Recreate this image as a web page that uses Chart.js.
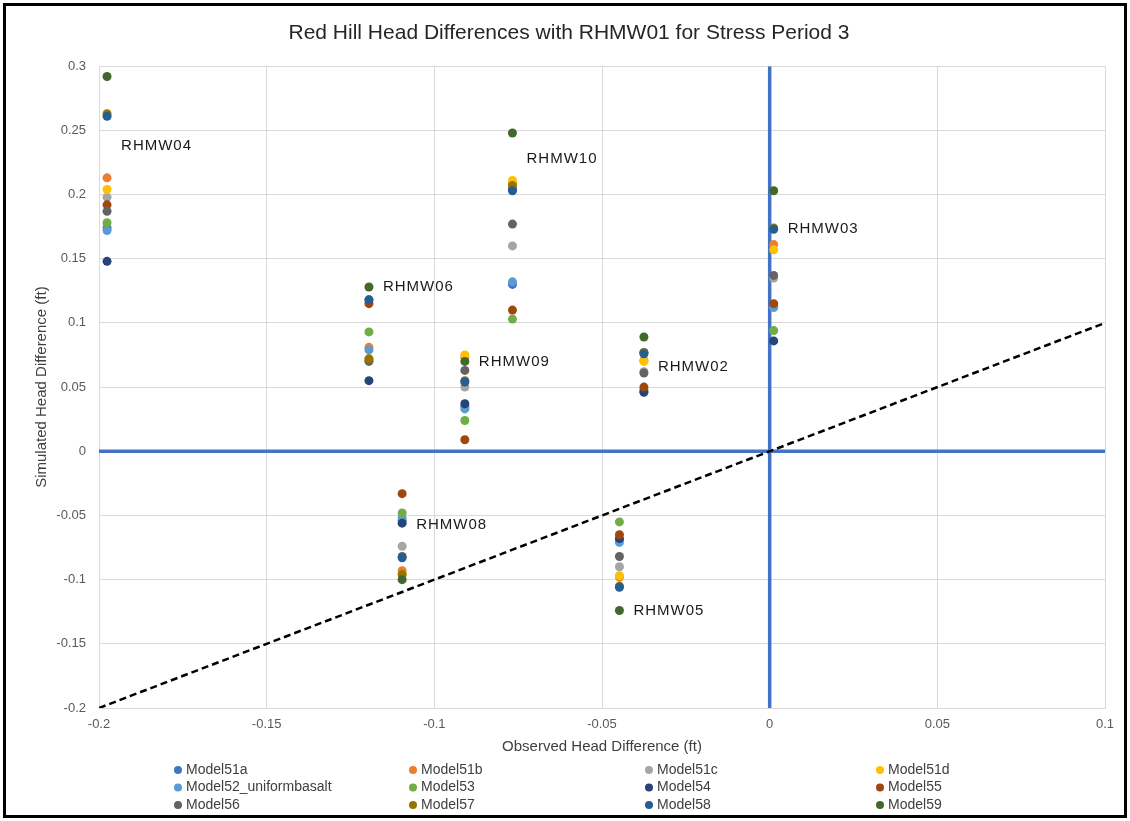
<!DOCTYPE html>
<html>
<head>
<meta charset="utf-8">
<script src="https://cdn.jsdelivr.net/npm/chart.js@4/dist/chart.umd.min.js"></script>
<style>
  body { margin: 0; background: #fff; }
</style>
</head>
<body>
<canvas id="chart" width="1130" height="821"></canvas>
<script>
// wells, in the order the values below are listed
const wells = ['RHMW04', 'RHMW06', 'RHMW08', 'RHMW09', 'RHMW10', 'RHMW05', 'RHMW02', 'RHMW03'];
const observed = [-0.1976, -0.1195, -0.1096, -0.0909, -0.0767, -0.0448, -0.0375, 0.0012];
const labelY = [0.238, 0.128, -0.057, 0.070, 0.228, -0.124, 0.066, 0.173];

const models = ['Model51a', 'Model51b', 'Model51c', 'Model51d', 'Model52_uniformbasalt', 'Model53',
                'Model54', 'Model55', 'Model56', 'Model57', 'Model58', 'Model59'];
const colors = ['#4472C4', '#ED7D31', '#A5A5A5', '#FFC000', '#5B9BD5', '#70AD47',
                '#264478', '#9E480E', '#636363', '#997300', '#255E91', '#43682B'];

const model51a = [0.174, 0.118, -0.054, 0.035, 0.130, -0.069, 0.077, 0.113];
const model51b = [0.213, 0.081, -0.093, 0.073, 0.209, -0.098, 0.071, 0.161];
const model51c = [0.198, 0.071, -0.074, 0.050, 0.160, -0.090, 0.062, 0.135];
const model51d = [0.204, 0.072, -0.096, 0.075, 0.211, -0.097, 0.070, 0.157];
const model52 = [0.172, 0.079, -0.052, 0.033, 0.132, -0.071, 0.047, 0.112];
const model53 = [0.178, 0.093, -0.048, 0.024, 0.103, -0.055, 0.048, 0.094];
const model54 = [0.148, 0.055, -0.056, 0.037, 0.204, -0.068, 0.046, 0.086];
const model55 = [0.192, 0.115, -0.033, 0.009, 0.110, -0.065, 0.050, 0.115];
const model56 = [0.187, 0.070, -0.082, 0.063, 0.177, -0.082, 0.061, 0.137];
const model57 = [0.263, 0.072, -0.096, 0.055, 0.207, -0.105, 0.077, 0.174];
const model58 = [0.261, 0.118, -0.083, 0.054, 0.203, -0.106, 0.076, 0.173];
const model59 = [0.292, 0.128, -0.100, 0.070, 0.248, -0.124, 0.089, 0.203];
const modelValues = [model51a, model51b, model51c, model51d, model52, model53,
                     model54, model55, model56, model57, model58, model59];

// reference lines
const zeroX = [{x: 0, y: -0.2}, {x: 0, y: 0.3}];
const zeroY = [{x: -0.2, y: 0}, {x: 0.1, y: 0}];
const oneToOne = [{x: -0.2, y: -0.2}, {x: 0.1, y: 0.1}];

const datasets = models.map((name, i) => ({
  label: name,
  data: observed.map((x, j) => ({x: x, y: modelValues[i][j]})),
  backgroundColor: colors[i],
  borderColor: colors[i],
  pointRadius: 4.5,
  pointBorderWidth: 0,
  order: 12 - i
}));
datasets.push(
  {label: 'x0', data: zeroX, showLine: true, borderColor: '#4472C4', borderWidth: 3.5, pointRadius: 0, order: 100},
  {label: 'y0', data: zeroY, showLine: true, borderColor: '#4472C4', borderWidth: 3.5, pointRadius: 0, order: 100},
  {label: '1:1', data: oneToOne, showLine: true, borderColor: '#000', borderWidth: 2.5, borderDash: [7, 4], pointRadius: 0, order: 99}
);

const txtFont = '"Liberation Sans", Arial, sans-serif';

const extras = {
  id: 'extras',
  beforeDraw(chart) {
    const c = chart.ctx;
    c.save();
    c.fillStyle = '#fff';
    c.fillRect(0, 0, chart.width, chart.height);
    c.restore();
  },
  afterDraw(chart) {
    const c = chart.ctx;
    const xs = chart.scales.x, ys = chart.scales.y;
    c.save();
    // well labels
    c.font = '15px ' + txtFont;
    c.letterSpacing = '1px';
    c.fillStyle = '#1a1a1a';
    c.textBaseline = 'middle';
    c.textAlign = 'left';
    wells.forEach((w, i) => {
      c.fillText(w, xs.getPixelForValue(observed[i]) + 14, ys.getPixelForValue(labelY[i]));
    });
    c.letterSpacing = '0px';
    // legend, 4 columns
    const colX = [178, 413, 649, 880];
    const rowY = [770, 787.5, 805];
    c.font = '14px ' + txtFont;
    models.forEach((m, i) => {
      const x = colX[i % 4], y = rowY[Math.floor(i / 4)];
      c.beginPath();
      c.arc(x, y, 4, 0, Math.PI * 2);
      c.fillStyle = colors[i];
      c.fill();
      c.fillStyle = '#404040';
      c.fillText(m, x + 8, y);
    });
    // frame
    c.strokeStyle = '#000';
    c.lineWidth = 3;
    c.strokeRect(4.5, 4.5, 1121, 812);
    c.restore();
  }
};

const fmt = v => String(Math.round(v * 100) / 100);

new Chart(document.getElementById('chart'), {
  type: 'scatter',
  data: {datasets: datasets},
  options: {
    responsive: false,
    animation: false,
    layout: {padding: {left: 33, right: 25, top: 0, bottom: 63}},
    plugins: {
      legend: {display: false},
      tooltip: {enabled: false},
      title: {
        display: true,
        text: 'Red Hill Head Differences with RHMW01 for Stress Period 3',
        color: '#262626',
        font: {family: txtFont, size: 21, weight: 'normal'},
        padding: {top: 21, bottom: 20}
      }
    },
    scales: {
      x: {
        type: 'linear',
        min: -0.2, max: 0.1,
        afterFit(s) { s.height = 50; },
        grid: {color: '#D9D9D9', drawTicks: false},
        border: {color: '#D9D9D9'},
        ticks: {stepSize: 0.05, padding: 9, color: '#595959', font: {family: txtFont, size: 13}, callback: fmt},
        title: {display: true, text: 'Observed Head Difference (ft)', color: '#404040',
                font: {family: txtFont, size: 15}, padding: {top: 2, bottom: 2}}
      },
      y: {
        type: 'linear',
        min: -0.2, max: 0.3,
        afterFit(s) { s.width = 66; },
        grid: {color: '#D9D9D9', drawTicks: false},
        border: {color: '#D9D9D9'},
        ticks: {stepSize: 0.05, padding: 13, color: '#595959', font: {family: txtFont, size: 13}, callback: fmt},
        title: {display: true, text: 'Simulated Head Difference (ft)', color: '#404040',
                font: {family: txtFont, size: 15}, padding: {top: 0, bottom: 0}}
      }
    }
  },
  plugins: [extras]
});
</script>
</body>
</html>
